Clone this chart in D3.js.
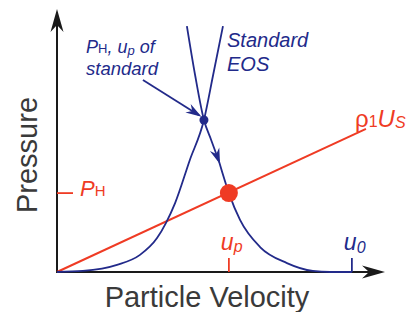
<!DOCTYPE html>
<html>
<head>
<meta charset="utf-8">
<script src="https://cdn.jsdelivr.net/npm/d3@7"></script>
<style>
  body { margin: 0; background: #fff; }
  svg { display: block; font-family: "Liberation Sans", Arial, sans-serif; }
</style>
</head>
<body>
<div id="chart"></div>
<script>
// values (arbitrary units, 0..100 on both axes)
var standardEOS = [
  [0, 0], [7.9, 0.4], [18.3, 2.7], [25.3, 6.5], [30.5, 12.9],
  [33.2, 18.6], [36.0, 26.2], [40.5, 42.6],
  [44.8, 57.8], [47.6, 74.9], [50.6, 93.5]
];
// reflected curve of the standard, top part ends at the arrow
var releaseTop = [
  [39.6, 93.5], [42.1, 74.9], [44.8, 57.8], [47.0, 50.2], [49.4, 42.0]
];
var releaseBottom = [
  [49.4, 42.0], [52.4, 30.0], [55.8, 19.8], [61.9, 9.5], [70.1, 3.4],
  [78.0, 0.4], [83.2, 0], [89.9, 0]
];
var rayleigh = [[0, 0], [94.2, 54.4]];
var standardPoint = [44.8, 57.8];   // P_H, u_p of standard
var samplePoint = [52.4, 30.0];     // P_H, u_p of sample
var u0 = 89.9;
var pointer = [[26.2, 73.0], [43.3, 59.6]];

var W = 417, H = 312;
var blue = "#222a8a", red = "#ef3b24", ink = "#1a1a1a", grey = "#3a3a3a";

var x = d3.scaleLinear().domain([0, 100]).range([57, 385]);
var y = d3.scaleLinear().domain([0, 100]).range([272, 9]);

var svg = d3.select("#chart").append("svg")
  .attr("width", W).attr("height", H);

var defs = svg.append("defs");
function marker(id, path, color) {
  defs.append("marker")
    .attr("id", id)
    .attr("markerUnits", "userSpaceOnUse")
    .attr("viewBox", "-25 -10 40 20")
    .attr("markerWidth", 40).attr("markerHeight", 20)
    .attr("refX", 0).attr("refY", 0)
    .attr("orient", "auto")
    .append("path").attr("d", path).attr("fill", color);
}
marker("axisHead", "M8,0 L-15,-6.5 L-8,0 L-15,6.5 Z", ink);
marker("blueHead", "M3,0 L-13,-5 L-8,0 L-13,5 Z", blue);

var line = d3.line()
  .x(function (d) { return x(d[0]); })
  .y(function (d) { return y(d[1]); });
var curve = d3.line()
  .x(function (d) { return x(d[0]); })
  .y(function (d) { return y(d[1]); })
  .curve(d3.curveMonotoneX);

// axes
svg.append("line")
  .attr("x1", x(0)).attr("y1", y(0)).attr("x2", x(100) - 8).attr("y2", y(0))
  .attr("stroke", ink).attr("stroke-width", 2)
  .attr("marker-end", "url(#axisHead)");
svg.append("line")
  .attr("x1", x(0)).attr("y1", y(0) + 1).attr("x2", x(0)).attr("y2", y(100) + 8)
  .attr("stroke", ink).attr("stroke-width", 2)
  .attr("marker-end", "url(#axisHead)");

// Rayleigh line
svg.append("path").datum(rayleigh).attr("d", line)
  .attr("fill", "none").attr("stroke", red).attr("stroke-width", 2);

// blue curves
svg.append("path").datum(standardEOS).attr("d", curve)
  .attr("fill", "none").attr("stroke", blue).attr("stroke-width", 1.8);
svg.append("path").datum(releaseTop).attr("d", curve)
  .attr("fill", "none").attr("stroke", blue).attr("stroke-width", 1.8)
  .attr("marker-end", "url(#blueHead)");
svg.append("path").datum(releaseBottom).attr("d", curve)
  .attr("fill", "none").attr("stroke", blue).attr("stroke-width", 1.8);

// pointer arrow
svg.append("path").datum(pointer).attr("d", line)
  .attr("fill", "none").attr("stroke", blue).attr("stroke-width", 1.8)
  .attr("marker-end", "url(#blueHead)");

// points
svg.append("circle").attr("cx", x(standardPoint[0])).attr("cy", y(standardPoint[1]))
  .attr("r", 4.5).attr("fill", blue);
svg.append("circle").attr("cx", x(samplePoint[0])).attr("cy", y(samplePoint[1]))
  .attr("r", 9).attr("fill", red);

// ticks
svg.append("line")
  .attr("x1", x(0)).attr("x2", x(0) + 16)
  .attr("y1", y(samplePoint[1])).attr("y2", y(samplePoint[1]))
  .attr("stroke", red).attr("stroke-width", 1.8);
svg.append("line")
  .attr("x1", x(samplePoint[0])).attr("x2", x(samplePoint[0]))
  .attr("y1", y(0)).attr("y2", y(0) - 14)
  .attr("stroke", red).attr("stroke-width", 1.8);
svg.append("line")
  .attr("x1", x(u0)).attr("x2", x(u0))
  .attr("y1", y(0)).attr("y2", y(0) - 14)
  .attr("stroke", blue).attr("stroke-width", 1.8);

// rich text helper: parts = [text, size, italic, dy]
function rich(px, py, color, parts, anchor) {
  var t = svg.append("text").attr("x", px).attr("y", py)
    .attr("fill", color).attr("text-anchor", anchor || "start");
  parts.forEach(function (p) {
    t.append("tspan").text(p[0])
      .attr("font-size", p[1])
      .attr("font-style", p[2] ? "italic" : "normal")
      .attr("dy", p[3] || 0);
  });
  return t;
}

// axis titles
svg.append("text")
  .attr("x", 207).attr("y", 307)
  .attr("text-anchor", "middle").attr("font-size", 29).attr("fill", grey)
  .text("Particle Velocity");
svg.append("text")
  .attr("transform", "translate(37,155) rotate(-90)")
  .attr("text-anchor", "middle").attr("font-size", 29).attr("fill", grey)
  .text("Pressure");

// labels
rich(x(0) + 23, y(samplePoint[1]) + 3, red, [["P", 22, true], ["H", 15, false]]);
rich(x(samplePoint[0]) - 8, 250, red, [["u", 23, true], ["p", 16, true, 2]]);
rich(x(u0) - 8, 250, blue, [["u", 23, true], ["0", 16, true, 3]]);
rich(355, 127, red, [["ρ", 24, false], ["1", 16, false], ["U", 24, true], ["S", 16, true, 1]]);

rich(86, 53, blue, [["P", 18, true], ["H", 13, false], [", u", 18, true], ["p", 13, true, 2], [" of", 18, true, -2]]);
rich(86, 75, blue, [["standard", 18.5, true]]);
rich(227, 47, blue, [["Standard", 20, true]]);
rich(227, 71, blue, [["EOS", 20, true]]);
</script>
</body>
</html>
